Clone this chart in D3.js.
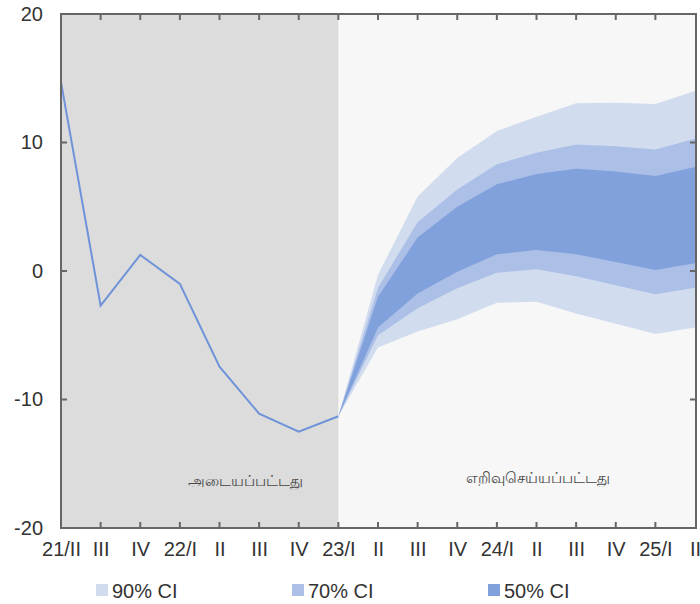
<!DOCTYPE html>
<meta charset="utf-8">
<html>
<head>
<script src="https://d3js.org/d3.v7.min.js" charset="utf-8"></script>
<style type="text/css">
  body { margin: 0; background: #fff; }
  .axis text { font-family: "Liberation Sans", Arial, sans-serif; font-size: 20px; fill: #333; }
</style>
</head>
<body>
<div id="chart"></div>
<script type="text/javascript">
// quarters
var quarters = ["21/II","III","IV","22/I","II","III","IV","23/I","II","III","IV","24/I","II","III","IV","25/I","II"];
// actual values (21/II .. 23/I)
var actual = [14.7, -2.7, 1.25, -1.0, -7.45, -11.1, -12.5, -11.3];
// forecast bands (23/I .. 25/II)
var upper90 = [-11.3, -0.3, 5.8, 8.8, 10.9, 12.0, 13.05, 13.1, 13.0, 14.0];
var upper70 = [-11.3, -1.3, 3.8, 6.35, 8.3, 9.2, 9.85, 9.7, 9.45, 10.3];
var upper50 = [-11.3, -2.0, 2.6, 5.0, 6.75, 7.55, 7.95, 7.75, 7.4, 8.1];
var lower50 = [-11.3, -4.4, -1.75, -0.05, 1.3, 1.63, 1.3, 0.7, 0.08, 0.6];
var lower70 = [-11.3, -5.0, -2.9, -1.35, -0.13, 0.13, -0.4, -1.1, -1.8, -1.3];
var lower90 = [-11.3, -5.95, -4.7, -3.75, -2.47, -2.4, -3.3, -4.1, -4.9, -4.4];
var yTicks = [-20, -10, 0, 10, 20];
var legendLabels = ["90% CI", "70% CI", "50% CI"];
var bandColors = ["#d1dcef", "#abbfe7", "#81a1dd"];

var canvas_width = 700, canvas_height = 604;
var pLeft = 61, pRight = 696, pTop = 14, pBottom = 528;
var startIdx = 7; // 23/I

var svg = d3.select("#chart").append("svg")
    .attr("width", canvas_width)
    .attr("height", canvas_height);

var xScale = d3.scalePoint()
    .domain(d3.range(quarters.length))
    .range([pLeft, pRight - 1]);

var yScale = d3.scaleLinear()
    .domain([-20, 20])
    .range([pBottom, pTop]);

// backgrounds
svg.append("rect")
    .attr("x", xScale(startIdx)).attr("y", pTop)
    .attr("width", pRight - xScale(startIdx)).attr("height", pBottom - pTop)
    .attr("fill", "#f7f7f7");
svg.append("rect")
    .attr("x", pLeft).attr("y", pTop)
    .attr("width", xScale(startIdx) - pLeft).attr("height", pBottom - pTop)
    .attr("fill", "#dcdcdc");

// fan bands
var bands = [[upper90, lower90], [upper70, lower70], [upper50, lower50]];
var area = d3.area()
    .x(function(d, i) { return xScale(startIdx + i); })
    .y0(function(d) { return yScale(d[1]); })
    .y1(function(d) { return yScale(d[0]); });

bands.forEach(function(b, k) {
    var pts = b[0].map(function(v, i) { return [v, b[1][i]]; });
    svg.append("path")
        .attr("d", area(pts))
        .attr("fill", bandColors[k]);
});

// actual line
var line = d3.line()
    .x(function(d, i) { return xScale(i); })
    .y(function(d) { return yScale(d); });
svg.append("path")
    .attr("d", line(actual))
    .attr("fill", "none")
    .attr("stroke", "#6f93d9")
    .attr("stroke-width", 2);

// tamil labels
svg.append("text")
    .attr("x", 245).attr("y", 486)
    .attr("text-anchor", "middle")
    .attr("font-family", "sans-serif").attr("font-size", 15).attr("fill", "#444")
    .text("அடையப்பட்டது");
svg.append("text")
    .attr("x", 538).attr("y", 483)
    .attr("text-anchor", "middle")
    .attr("font-family", "sans-serif").attr("font-size", 15).attr("fill", "#444")
    .text("எறிவுசெய்யப்பட்டது");

// ticks inside the frame
var tickColor = "#666";
var xt = d3.range(1, quarters.length - 1);
svg.selectAll(".tb").data(xt).enter().append("line")
    .attr("x1", function(d) { return xScale(d); }).attr("x2", function(d) { return xScale(d); })
    .attr("y1", pBottom).attr("y2", pBottom - 6)
    .attr("stroke", tickColor).attr("stroke-width", 2);
svg.selectAll(".tt").data(xt).enter().append("line")
    .attr("x1", function(d) { return xScale(d); }).attr("x2", function(d) { return xScale(d); })
    .attr("y1", pTop).attr("y2", pTop + 6)
    .attr("stroke", tickColor).attr("stroke-width", 2);
var yt = yTicks.slice(1, -1);
svg.selectAll(".tl").data(yt).enter().append("line")
    .attr("x1", pLeft).attr("x2", pLeft + 6)
    .attr("y1", function(d) { return yScale(d); }).attr("y2", function(d) { return yScale(d); })
    .attr("stroke", tickColor).attr("stroke-width", 2);
svg.selectAll(".tr").data(yt).enter().append("line")
    .attr("x1", pRight).attr("x2", pRight - 6)
    .attr("y1", function(d) { return yScale(d); }).attr("y2", function(d) { return yScale(d); })
    .attr("stroke", tickColor).attr("stroke-width", 2);

// frame
svg.append("rect")
    .attr("x", pLeft).attr("y", pTop)
    .attr("width", pRight - pLeft).attr("height", pBottom - pTop)
    .attr("fill", "none").attr("stroke", tickColor).attr("stroke-width", 2);

// axis labels
var xAxis = d3.axisBottom(xScale).tickSize(0).tickPadding(14)
    .tickFormat(function(d) { return quarters[d]; });
svg.append("g").attr("class", "x axis")
    .attr("transform", "translate(0," + pBottom + ")")
    .call(xAxis)
    .call(function(g) { g.select(".domain").remove(); });

var yAxis = d3.axisLeft(yScale).tickValues(yTicks).tickSize(0).tickPadding(18)
    .tickFormat(function(d) { return String(d); });  // plain hyphen minus
svg.append("g").attr("class", "y axis")
    .attr("transform", "translate(" + pLeft + ",0)")
    .call(yAxis)
    .call(function(g) { g.select(".domain").remove(); });

// legend
var legend = svg.selectAll(".legend").data(legendLabels).enter().append("g")
    .attr("transform", function(d, i) { return "translate(" + (96 + i * 196) + ",584)"; });
legend.append("rect")
    .attr("width", 12).attr("height", 12)
    .attr("fill", function(d, i) { return bandColors[i]; });
legend.append("text")
    .attr("x", 16).attr("y", 14)
    .attr("font-family", "Liberation Sans, Arial, sans-serif").attr("font-size", 20).attr("fill", "#333")
    .text(function(d) { return d; });
</script>
</body>
</html>
